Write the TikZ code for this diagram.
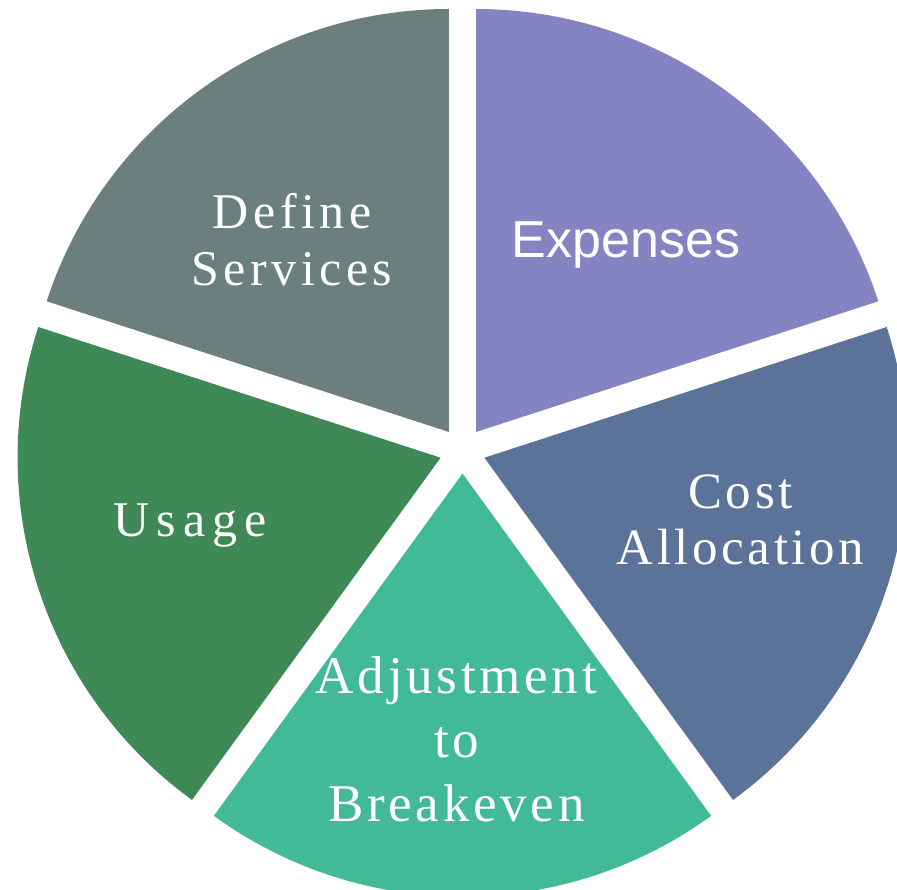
\documentclass[tikz,border=0pt]{standalone}
\usepackage{fontspec}
\setmainfont{Liberation Serif}
\newfontfamily\trackedserif[LetterSpace=9,Ligatures=NoCommon]{Liberation Serif}
\newfontfamily\snugserif[LetterSpace=7,Ligatures=NoCommon]{Liberation Serif}
\newfontfamily\wideserif[LetterSpace=14,Ligatures=NoCommon]{Liberation Serif}
\newfontfamily\plainsans{Liberation Sans}

\definecolor{svcgray}{HTML}{6B7F7F}
\definecolor{expviolet}{HTML}{8584C3}
\definecolor{costblue}{HTML}{5B7398}
\definecolor{adjteal}{HTML}{43BA97}
\definecolor{usegreen}{HTML}{3E8955}

\tikzset{
  lbl/.style={text=white, inner sep=0pt, anchor=base},
}

\begin{document}
\begin{tikzpicture}[x=0.02cm,y=0.02cm]
\useasboundingbox (-462.5,-439.4) rectangle (434.5,450.6);

% five exploded wedges of 72 degrees, each pushed out along its bisector
\foreach \a/\c in {90/svcgray, 18/expviolet, -54/costblue, 234/adjteal, 162/usegreen}{
  \fill[\c] ({23*cos(\a+36)},{23*sin(\a+36)}) -- ++(\a:423)
    arc[start angle=\a, end angle=\a+72, radius=423] -- cycle;
}

\node[lbl, font=\trackedserif\fontsize{28.45}{33}\selectfont] (define) at (-170.5,222.6)
  {\begin{tabular}[t]{@{}c@{}}Define\\Services\end{tabular}};
\node[lbl, font=\plainsans\fontsize{29.6}{34}\selectfont] (expenses) at (163.5,193.6) {Expenses};
\node[lbl, font=\snugserif\fontsize{29}{31.9}\selectfont] (cost) at (278,-57.4)
  {\begin{tabular}[t]{@{}c@{}}Cost\\Allocation\end{tabular}};
\node[lbl, font=\snugserif\fontsize{30.2}{36.7}\selectfont] (adjust) at (-6,-242.4)
  {\begin{tabular}[t]{@{}c@{}}Adjustment\\to\\Breakeven\end{tabular}};
\node[lbl, font=\wideserif\fontsize{28.45}{33}\selectfont] (usage) at (-272.5,-85.4) {Usage};
\end{tikzpicture}
\end{document}
